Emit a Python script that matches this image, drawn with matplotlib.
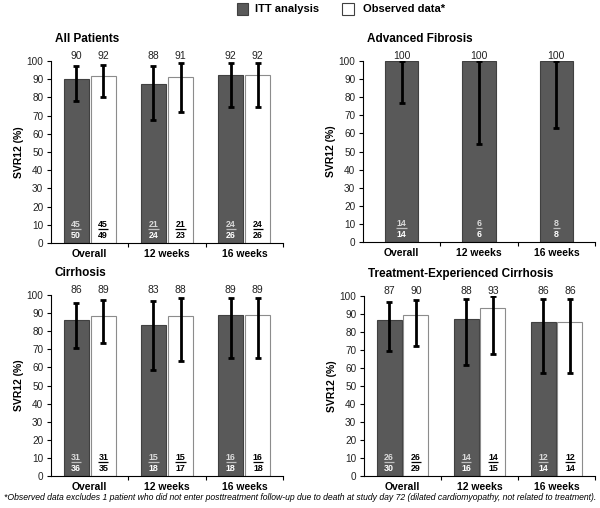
import matplotlib
matplotlib.use("Agg")
import matplotlib.pyplot as plt
import numpy as np
from matplotlib.patches import Rectangle

plt.rcParams['font.family'] = ['Liberation Sans', 'DejaVu Sans']

categories = ["Overall", "12 weeks", "16 weeks"]

titles = ["All Patients", "Advanced Fibrosis", "Cirrhosis", "Treatment-Experienced Cirrhosis"]

# ITT analysis
itt_values = [[89.9, 87.5, 92.3], [100, 100, 100], [86.1, 83.3, 88.9], [86.7, 87.5, 85.7]]
itt_labels = [["90", "88", "92"], ["100", "100", "100"], ["86", "83", "89"], ["87", "88", "86"]]
itt_low = [[78, 67.5, 75], [77, 54, 63], [70.5, 58.5, 65], [69.5, 61.5, 57]]
itt_high = [[97, 97.5, 99], [100, 100, 100], [95.5, 96.5, 98.5], [96.5, 98.5, 98.5]]
itt_num = [["45", "21", "24"], ["14", "6", "8"], ["31", "15", "16"], ["26", "14", "12"]]
itt_den = [["50", "24", "26"], ["14", "6", "8"], ["36", "18", "18"], ["30", "16", "14"]]

# Observed data
obs_values = [[91.8, 91.3, 92.3], None, [88.6, 88.2, 88.9], [89.7, 93.3, 85.7]]
obs_labels = [["92", "91", "92"], None, ["89", "88", "89"], ["90", "93", "86"]]
obs_low = [[80, 72, 75], None, [73.5, 63.5, 65], [72.5, 68, 57]]
obs_high = [[98, 99, 99], None, [97, 98.5, 98.5], [98, 100, 98.5]]
obs_num = [["45", "21", "24"], None, ["31", "15", "16"], ["26", "14", "12"]]
obs_den = [["49", "23", "26"], None, ["35", "17", "18"], ["29", "15", "14"]]

yticks = list(range(0, 101, 10))

DARK = "#595959"
W = 600; H = 508
fig = plt.figure(figsize=(6, 5.08), dpi=100)

boxes = [(51, 61, 283, 243), (363, 61, 595, 242), (51, 295, 283, 476), (364, 296, 595, 476)]


def frac(ax, x, num, den, dark):
    ncol = "#d9d9d9" if dark else "black"
    dcol = "white" if dark else "black"
    lcol = "#bfbfbf" if dark else "black"
    ax.text(x, 8.7, num, ha="center", va="baseline", fontsize=6.4, fontweight="bold", color=ncol)
    ax.text(x, 3.0, den, ha="center", va="baseline", fontsize=6.4, fontweight="bold", color=dcol)
    hw = 0.034 * max(len(num), 1.3)
    ax.plot([x - hw, x + hw], [7.7, 7.7], color=lcol, lw=0.9, solid_capstyle="butt")


for i in range(4):
    x0, y0, x1, y1 = boxes[i]
    ax = fig.add_axes([x0 / W, 1 - y1 / H, (x1 - x0) / W, (y1 - y0) / H])
    x = np.arange(len(categories))
    if obs_values[i] is None:
        bw = 0.43
        pos = [x]
        series = [(itt_values[i], itt_labels[i], itt_low[i], itt_high[i], itt_num[i], itt_den[i], True)]
    else:
        bw = 0.325
        pos = [x - 0.175, x + 0.175]
        series = [(itt_values[i], itt_labels[i], itt_low[i], itt_high[i], itt_num[i], itt_den[i], True),
                  (obs_values[i], obs_labels[i], obs_low[i], obs_high[i], obs_num[i], obs_den[i], False)]
    for p, (vals, labs, lo, hi, nums, dens, dark) in zip(pos, series):
        vals = np.array(vals); lo = np.array(lo); hi = np.array(hi)
        ax.bar(p, vals, width=bw, color=DARK if dark else "white",
               edgecolor="#404040" if dark else "#8c8c8c", linewidth=0.8, zorder=2)
        ax.errorbar(p, vals, yerr=[vals - lo, hi - vals], fmt="none", ecolor="black",
                    elinewidth=2.0, capsize=2.4, capthick=2.0, zorder=3)
        for xi, lab, n, d in zip(p, labs, nums, dens):
            ax.text(xi, 101.0, lab, ha="center", va="baseline", fontsize=7.5, color="#222222", clip_on=False)
            frac(ax, xi, n, d, dark)
    ax.set_xlim(-0.5, 2.5)
    ax.set_ylim(0, 100)
    ax.set_yticks(yticks)
    ax.tick_params(axis="y", labelsize=7.2, length=3, width=0.8, pad=2.5, labelcolor="#222222")
    ax.set_xticks([0.5, 1.5, 2.5])
    ax.set_xticks(x, minor=True)
    ax.set_xticklabels([])
    ax.set_xticklabels(categories, minor=True, fontsize=7.5, fontweight="bold")
    ax.tick_params(axis="x", which="major", length=3, width=0.8)
    ax.tick_params(axis="x", which="minor", length=0, pad=4)
    for s in ["top", "right"]:
        ax.spines[s].set_visible(False)
    for s in ["left", "bottom"]:
        ax.spines[s].set_linewidth(0.8)
    ax.set_ylabel("SVR12 (%)", fontsize=7.5, fontweight="bold", labelpad=2)
    fig.text((x0 + 4) / W, 1 - (y0 - 22) / H, titles[i], fontsize=8.5, fontweight="bold",
             ha="left", va="center")

# legend
fig.patches.append(Rectangle((237 / W, 1 - 15 / H), 11 / W, 12 / H, transform=fig.transFigure,
                             facecolor=DARK, edgecolor="#404040", lw=0.8))
fig.text(255 / W, 1 - 9 / H, "ITT analysis", fontsize=8, fontweight="bold", va="center")
fig.patches.append(Rectangle((342 / W, 1 - 15 / H), 12 / W, 12 / H, transform=fig.transFigure,
                             facecolor="white", edgecolor="#404040", lw=0.8))
fig.text(363 / W, 1 - 9 / H, "Observed data*", fontsize=8, fontweight="bold", va="center")

fig.text(0.5, 1 - 497 / H,
         "*Observed data excludes 1 patient who did not enter posttreatment follow-up due to death at study day 72 "
         "(dilated cardiomyopathy, not related to treatment).",
         fontsize=6.2, style="italic", ha="center", va="center")

fig.savefig("out.png", dpi=100)
